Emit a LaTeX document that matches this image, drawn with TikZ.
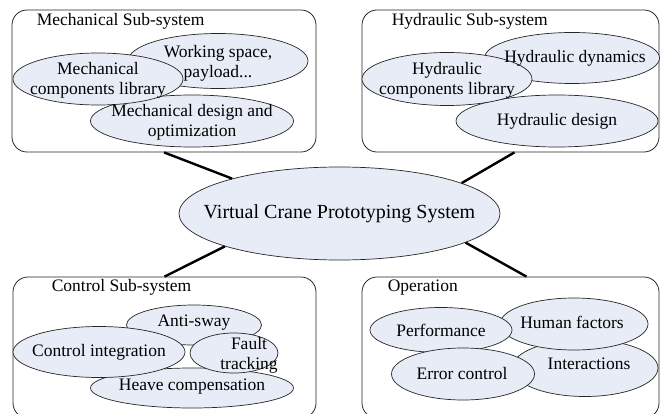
\documentclass[tikz,border=0pt]{standalone}
\usepackage{fontspec}
\setmainfont{Liberation Serif}
\usetikzlibrary{shapes.geometric,positioning,calc}
\definecolor{ellfill}{RGB}{231,236,246}

\begin{document}
\begin{tikzpicture}[x=1pt, y=-1pt,
    subsys/.style={draw=black!85, line width=0.8pt, rounded corners=15pt, minimum width=#1, minimum height=141pt, inner sep=0pt},
    bub/.style={ellipse, draw=black!85, fill=ellfill, line width=0.7pt, inner sep=0pt},
    lbl/.style={font=\fontsize{17.5}{20}\selectfont, align=center, inner sep=0pt},
    ttl/.style={font=\fontsize{17.5}{20}\selectfont, anchor=west, inner sep=0pt},
    link/.style={line width=2.4pt}]
    \clip (0,0) rectangle (660,414);

    % Sub-system frames
    \node[subsys=304pt, minimum height=142pt] (mech) at (164,81) {};
    \node[subsys=297pt, minimum height=142pt] (hyd) at (510.5,81) {};
    \node[subsys=303pt] (ctrl) at (164.5,347.5) {};
    \node[subsys=297pt] (oper) at (510.5,347.5) {};
    \node[ttl] (mech-t) at ([shift={(25,12)}]mech.north west) {Mechanical Sub-system};
    \node[ttl] (hyd-t) at ([shift={(30,12)}]hyd.north west) {Hydraulic Sub-system};
    \node[ttl] (ctrl-t) at ([shift={(39,11)}]ctrl.north west) {Control Sub-system};
    \node[ttl] (oper-t) at ([shift={(26,11)}]oper.north west) {Operation};

    % Central system
    \node[bub, minimum width=321pt, minimum height=93pt] (vcps) at (339.5,213.5) {};
    \node[lbl, font=\fontsize{20}{24}\selectfont] (vcps-t) at (vcps) {Virtual Crane Prototyping System};
    \draw[link] (mech.south) -- (vcps.162.5);
    \draw[link] ([xshift=4pt]hyd.south) -- (vcps.14.8);
    \draw[link] (ctrl.north) -- (vcps.196.7);
    \draw[link] ([xshift=16pt]oper.north) -- (vcps.-13.7);

    % Mechanical
    \node[bub, minimum width=180pt, minimum height=55pt] (mwork) at (218,61) {};
    \node[bub, minimum width=203pt, minimum height=52pt] (mdes) at (192,121) {};
    \node[bub, minimum width=170pt, minimum height=52pt] (mlib) at (98,79) {};
    \node[lbl] (mwork-t) at (218,63) {Working space,\\payload...};
    \node[lbl] (mdes-t) at (192,122) {Mechanical design and\\optimization};
    \node[lbl] (mlib-t) at (98,80) {Mechanical\\components library};

    % Hydraulic
    \node[bub, minimum width=175pt, minimum height=51pt] (hdyn) at (572,58) {};
    \node[bub, minimum width=202pt, minimum height=52pt] (hdes) at (557,121) {};
    \node[bub, minimum width=170pt, minimum height=53pt] (hlib) at (447,79) {};
    \node[lbl] (hdyn-t) at (575,58) {Hydraulic dynamics};
    \node[lbl] (hdes-t) at (557,121) {Hydraulic design};
    \node[lbl] (hlib-t) at (447,80) {Hydraulic\\components library};

    % Control
    \node[bub, minimum width=135pt, minimum height=40pt] (casw) at (194,325) {};
    \node[bub, minimum width=203pt, minimum height=40pt] (chev) at (192,388) {};
    \node[bub, minimum width=172pt, minimum height=51pt] (cint) at (99,352) {};
    \node[bub, minimum width=88pt, minimum height=40pt] (cflt) at (234,353) {};
    \node[lbl] (casw-t) at (194,323) {Anti-sway};
    \node[lbl] (chev-t) at (192,387) {Heave compensation};
    \node[lbl] (cint-t) at (99,352) {Control integration};
    \node[lbl] (cflt-t) at (249,355) {Fault\\tracking};

    % Operation
    \node[bub, minimum width=146pt, minimum height=57pt] (oint) at (585,368) {};
    \node[bub, minimum width=148pt, minimum height=52pt] (ohum) at (574,324) {};
    \node[bub, minimum width=142pt, minimum height=45pt] (operf) at (441,330) {};
    \node[bub, minimum width=143pt, minimum height=52pt] (oerr) at (463,374) {};
    \node[lbl] (oint-t) at (589,364) {Interactions};
    \node[lbl] (ohum-t) at (572,322) {Human factors};
    \node[lbl] (operf-t) at (441,330) {Performance};
    \node[lbl] (oerr-t) at (462,374) {Error control};
\end{tikzpicture}
\end{document}
